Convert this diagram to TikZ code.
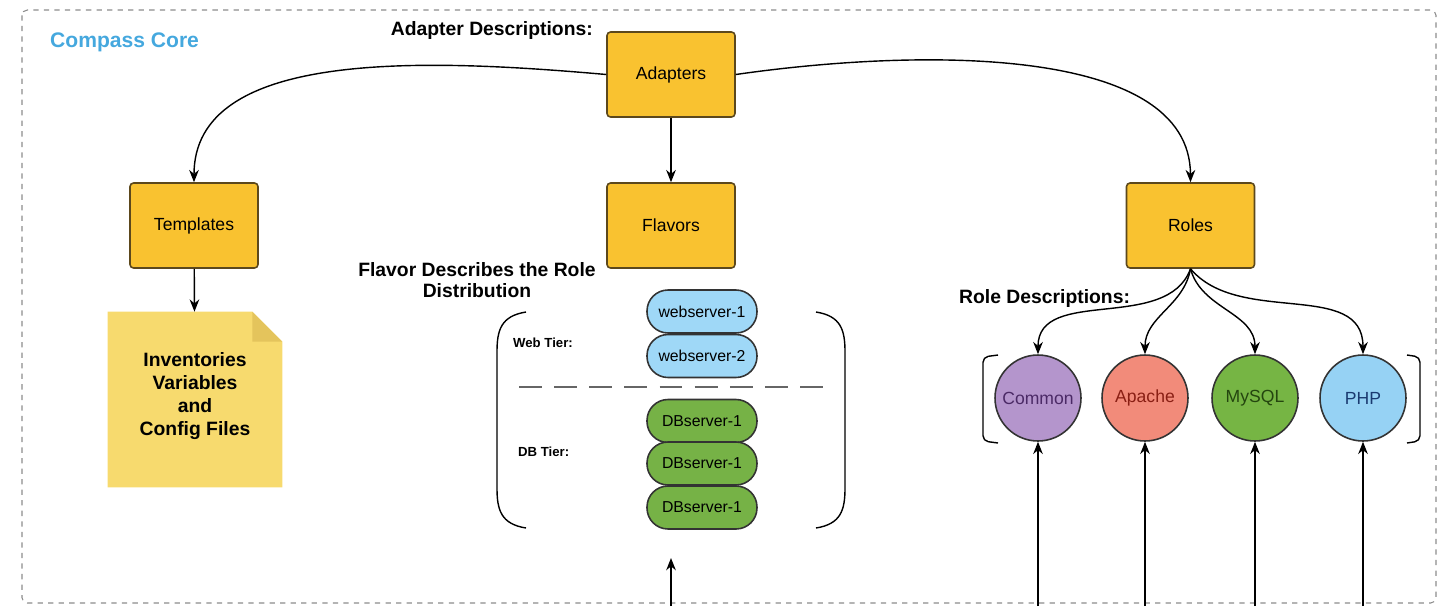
\documentclass[tikz,border=0pt]{standalone}
\usepackage{fontspec}
\setmainfont{Liberation Sans}
\usepackage{tikz}
\usetikzlibrary{shapes.geometric, arrows.meta}
\definecolor{boxfill}{RGB}{249,194,48}
\definecolor{boxline}{RGB}{92,72,28}
\definecolor{docfill}{RGB}{247,218,110}
\definecolor{docfold}{RGB}{228,196,92}
\definecolor{webfill}{RGB}{159,216,247}
\definecolor{dbfill}{RGB}{118,178,70}
\definecolor{corecol}{RGB}{69,168,222}
\tikzstyle{arrow} = [thick,-{Stealth[length=7pt,width=5.5pt]}]
\tikzstyle{compbox} = [rectangle, rounded corners=2pt, draw=boxline, fill=boxfill, line width=0.9pt, minimum width=2.56cm, minimum height=1.7cm, font=\fontsize{10}{12}\selectfont]
\tikzstyle{pill} = [rectangle, rounded corners=0.42cm, draw=black!80, line width=0.9pt, minimum width=2.2cm, minimum height=0.86cm, font=\fontsize{9}{11}\selectfont]
\tikzstyle{role} = [circle, draw=black!80, line width=0.9pt, minimum size=1.72cm, inner sep=0pt, font=\fontsize{10}{12}\selectfont]
\tikzstyle{note} = [font=\fontsize{11}{12}\selectfont\bfseries]
\tikzstyle{tier} = [font=\fontsize{7.5}{9}\selectfont\bfseries]

\begin{document}
\begin{tikzpicture}[x=0.02cm, y=-0.02cm]
	\useasboundingbox (0,0) rectangle (1441,606);
	\draw[black!45, dashed, line width=0.6pt, rounded corners=3pt] (22,10) rectangle (1436,603);
	\node[anchor=west, text=corecol, font=\fontsize{12}{14}\selectfont\bfseries] (core) at (44,42) {Compass Core};

	% adapters and the three children
	\node[note, anchor=east] (adesc) at (599,30) {Adapter Descriptions:};
	\node[compbox] (adapters) at (671,74.5) {Adapters};
	\node[compbox] (templates) at (194,225.5) {Templates};
	\node[compbox] (flavors) at (671,225.5) {Flavors};
	\node[compbox] (roles) at (1190.5,225.5) {Roles};
	\draw[arrow] (adapters.west) .. controls (420,58) and (194,50) .. (templates.north);
	\draw[arrow] (adapters.east) .. controls (920,48) and (1190,45) .. (roles.north);
	\draw[arrow] (adapters) -- (flavors);

	% config files
	\node[minimum width=3.48cm, minimum height=3.5cm] (files) at (195,399.5) {};
	\fill[docfill] (files.north west) -- ([xshift=-0.6cm]files.north east) -- ([yshift=-0.6cm]files.north east) -- (files.south east) -- (files.south west) -- cycle;
	\fill[docfold] ([xshift=-0.6cm]files.north east) -- ([yshift=-0.6cm]files.north east) -- ([xshift=-0.6cm,yshift=-0.6cm]files.north east) -- cycle;
	\node[align=center, font=\fontsize{11}{13}\selectfont\bfseries] (filestext) at (195,396) {Inventories\\Variables\\and\\Config Files};
	\draw[arrow] (templates) -- (files);

	% flavors
	\node[note, align=center] (fdesc) at (477,280) {Flavor Describes the Role\\Distribution};
	\draw[thick] (526,312) .. controls (501,316) and (497,330) .. (497,352) -- (497,488) .. controls (497,510) and (501,524) .. (526,528);
	\draw[thick] (816,312) .. controls (841,316) and (845,330) .. (845,352) -- (845,488) .. controls (845,510) and (841,524) .. (816,528);
	\node[tier, anchor=west] (webtier) at (507,343) {Web Tier:};
	\node[tier, anchor=west] (dbtier) at (512,452) {DB Tier:};
	\node[pill, fill=webfill] (web1) at (702,311.5) {webserver-1};
	\node[pill, fill=webfill] (web2) at (702,356) {webserver-2};
	\draw[black!60, line width=1.6pt, dash pattern=on 13pt off 7pt] (519,387) -- (823,387);
	\node[pill, fill=dbfill] (db1) at (702,421) {DBserver-1};
	\node[pill, fill=dbfill] (db2) at (702,463.5) {DBserver-1};
	\node[pill, fill=dbfill] (db3) at (702,507.5) {DBserver-1};
	\coordinate (flin) at (671,606);
	\coordinate (flend) at (671,558);
	\draw[arrow] (flin) -- (flend);

	% roles
	\node[note, anchor=west] (rdesc) at (953,298) {Role Descriptions:};
	\node[role, fill={rgb,255:red,180;green,149;blue,204}, text={rgb,255:red,75;green,42;blue,102}] (common) at (1038,398) {Common};
	\node[role, fill={rgb,255:red,242;green,139;blue,122}, text={rgb,255:red,138;green,31;blue,20}] (apache) at (1145,398) {Apache};
	\node[role, fill={rgb,255:red,118;green,181;blue,68}, text={rgb,255:red,36;green,69;blue,15}] (mysql) at (1255,398) {MySQL};
	\node[role, fill={rgb,255:red,150;green,210;blue,244}, text={rgb,255:red,26;green,58;blue,112}] (php) at (1363,398) {PHP};
	\draw[thick, rounded corners=3pt] (998,355) -- (983,357) -- (983,441) -- (998,443);
	\draw[thick, rounded corners=3pt] (1407,355) -- (1420,357) -- (1420,441) -- (1407,443);
	\draw[arrow] (roles.south) to[out=-110, in=90] (common.north);
	\draw[arrow] (roles.south) to[out=-100, in=90] (apache.north);
	\draw[arrow] (roles.south) to[out=-75, in=90] (mysql.north);
	\draw[arrow] (roles.south) to[out=-50, in=90] (php.north);
	\foreach \r/\x in {common/1038, apache/1145, mysql/1255, php/1363} {
		\coordinate (\r-in) at (\x,606);
		\draw[arrow] (\r-in) -- (\r.south);
	}
\end{tikzpicture}
\end{document}
